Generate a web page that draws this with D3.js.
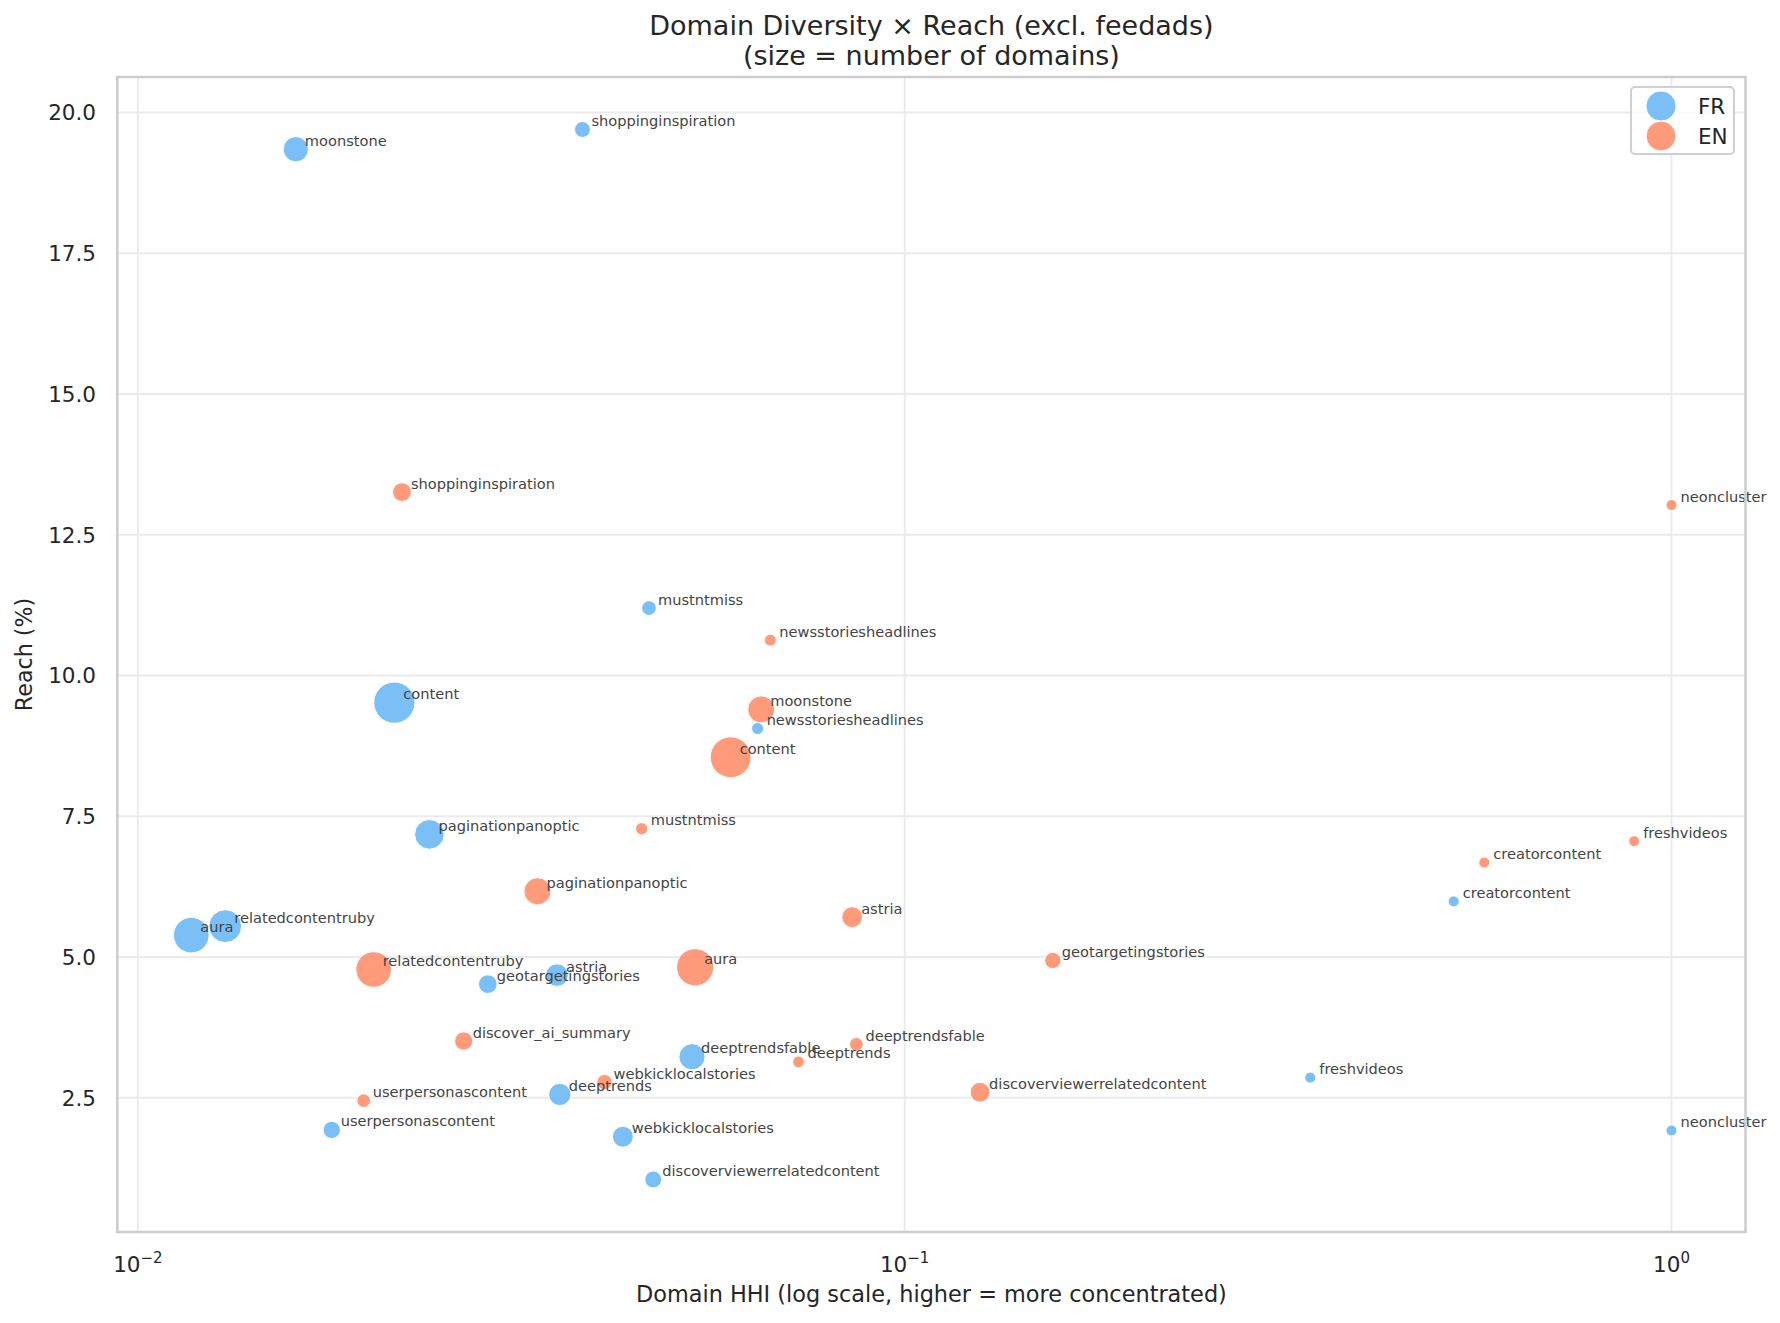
<!DOCTYPE html>
<html>
<head>
<meta charset="utf-8">
<script src="https://cdn.jsdelivr.net/npm/d3@7"></script>
<style>
  body { margin: 0; background: #fff; }
  svg { display: block; font-family: "DejaVu Sans", sans-serif; }
</style>
</head>
<body>
<svg width="1780" height="1323"></svg>
<script>
// ---------------------------------------------------------------------------
// Data

const frNames = ["moonstone", "shoppinginspiration", "mustntmiss", "content",
  "newsstoriesheadlines", "paginationpanoptic", "creatorcontent",
  "relatedcontentruby", "aura", "astria", "geotargetingstories",
  "deeptrendsfable", "freshvideos", "deeptrends", "userpersonascontent",
  "webkicklocalstories", "neoncluster", "discoverviewerrelatedcontent"];
const frHHI = [0.01607, 0.0380, 0.0464, 0.0216, 0.0643, 0.0240, 0.520,
  0.0130, 0.01174, 0.0352, 0.0286, 0.0528, 0.338, 0.0355, 0.0179,
  0.0429, 1.0, 0.0470];
const frReach = [19.35, 19.70, 11.20, 9.52, 9.06, 7.18, 5.99, 5.55, 5.39,
  4.68, 4.52, 3.23, 2.86, 2.56, 1.93, 1.81, 1.92, 1.05];
const frDomains = [393, 102, 74, 1200, 20, 576, 2, 729, 873, 298, 175,
  432, 3, 285, 136, 240, 1, 126];

const enNames = ["shoppinginspiration", "neoncluster", "newsstoriesheadlines",
  "moonstone", "content", "mustntmiss", "freshvideos", "creatorcontent",
  "paginationpanoptic", "astria", "geotargetingstories", "aura",
  "relatedcontentruby", "discover_ai_summary", "deeptrendsfable",
  "deeptrends", "webkicklocalstories", "discoverviewerrelatedcontent",
  "userpersonascontent"];
const enHHI = [0.0221, 1.0, 0.0668, 0.0650, 0.0593, 0.0454, 0.894, 0.570,
  0.0332, 0.0854, 0.156, 0.0533, 0.0203, 0.0266, 0.0865, 0.0727, 0.0406,
  0.1254, 0.0197];
const enReach = [13.26, 13.03, 10.63, 9.40, 8.55, 7.28, 7.06, 6.68, 6.17,
  5.71, 4.94, 4.82, 4.78, 3.51, 3.45, 3.14, 2.78, 2.60, 2.45];
const enDomains = [180, 1, 18, 465, 1175, 25, 2, 2, 470, 240, 111, 960,
  873, 163, 53, 15, 87, 209, 51];

const langs = ["FR", "EN"];
const colors = ["#64b5f6", "#ff8a65"];
const yTicks = [2.5, 5.0, 7.5, 10.0, 12.5, 15.0, 17.5, 20.0];
const xTicks = [0.01, 0.1, 1];

// ---------------------------------------------------------------------------
// Layout

const svg = d3.select("svg");
const plotL = 117.3, plotR = 1745.5, plotT = 77, plotB = 1232;

const series = [
  {lang: langs[0], color: colors[0], names: frNames, hhi: frHHI, reach: frReach, n: frDomains},
  {lang: langs[1], color: colors[1], names: enNames, hhi: enHHI, reach: enReach, n: enDomains}
];
const points = series.flatMap(s => s.names.map((name, i) => ({
  name: name, hhi: s.hhi[i], reach: s.reach[i], n: s.n[i], color: s.color
})));

// matplotlib style 5% margins (log space for x)
const lx = d3.extent(points, d => Math.log10(d.hhi));
const lpad = (lx[1] - lx[0]) * 0.05;
const ry = d3.extent(points, d => d.reach);
const ypad = (ry[1] - ry[0]) * 0.05;

const x = d3.scaleLog()
  .domain([Math.pow(10, lx[0] - lpad), Math.pow(10, lx[1] + lpad)])
  .range([plotL, plotR]);
const y = d3.scaleLinear()
  .domain([ry[0] - ypad, ry[1] + ypad])
  .range([plotB, plotT]);

// marker area grows linearly with number of domains
const nAll = points.map(d => d.n);
const area = d3.scaleLinear()
  .domain([d3.min(nAll), d3.max(nAll)])
  .range([30, 425]);
const radius = n => Math.sqrt(area(n));

// ---------------------------------------------------------------------------
// Grid and frame

const grid = svg.append("g").attr("class", "grid");
grid.selectAll("line.h").data(yTicks).enter().append("line")
  .attr("x1", plotL).attr("x2", plotR)
  .attr("y1", d => y(d)).attr("y2", d => y(d))
  .attr("stroke", "#ebebeb").attr("stroke-width", 2);
grid.selectAll("line.v").data(xTicks).enter().append("line")
  .attr("y1", plotT).attr("y2", plotB)
  .attr("x1", d => x(d)).attr("x2", d => x(d))
  .attr("stroke", "#ebebeb").attr("stroke-width", 2);

// ---------------------------------------------------------------------------
// Bubbles, then labels on top

svg.append("g").attr("class", "bubbles")
  .selectAll("circle")
  .data(points)
  .enter().append("circle")
  .attr("cx", d => x(d.hhi))
  .attr("cy", d => y(d.reach))
  .attr("r", d => radius(d.n))
  .attr("fill", d => d.color)
  .attr("stroke", "#fff")
  .attr("stroke-width", 1)
  .attr("opacity", 0.85);

svg.append("g").attr("class", "labels")
  .selectAll("text")
  .data(points)
  .enter().append("text")
  .attr("x", d => x(d.hhi) + 9)
  .attr("y", d => y(d.reach) - 3.5)
  .attr("font-size", 14.6)
  .attr("fill", "#444")
  .text(d => d.name);

svg.append("rect")
  .attr("x", plotL).attr("y", plotT)
  .attr("width", plotR - plotL).attr("height", plotB - plotT)
  .attr("fill", "none")
  .attr("stroke", "#cccccc")
  .attr("stroke-width", 2.5);

// ---------------------------------------------------------------------------
// Axes

svg.append("g").attr("class", "yticks")
  .selectAll("text")
  .data(yTicks)
  .enter().append("text")
  .attr("x", 96)
  .attr("y", d => y(d))
  .attr("dy", "0.36em")
  .attr("text-anchor", "end")
  .attr("font-size", 21.5)
  .attr("fill", "#262626")
  .text(d => d.toFixed(1));

const xt = svg.append("g").attr("class", "xticks")
  .selectAll("text")
  .data(xTicks)
  .enter().append("text")
  .attr("x", d => x(d))
  .attr("y", 1272)
  .attr("text-anchor", "middle")
  .attr("font-size", 21.5)
  .attr("fill", "#262626");
xt.append("tspan").text("10");
xt.append("tspan")
  .attr("dy", -9)
  .attr("font-size", 15)
  .text(d => {
    let e = Math.round(Math.log10(d));
    return e < 0 ? "\u2212" + (-e) : "" + e;
  });

svg.append("text")
  .attr("x", (plotL + plotR) / 2)
  .attr("y", 1302)
  .attr("text-anchor", "middle")
  .attr("font-size", 22.4)
  .attr("fill", "#262626")
  .text("Domain HHI (log scale, higher = more concentrated)");

svg.append("text")
  .attr("transform", `translate(24,${(plotT + plotB) / 2}) rotate(-90)`)
  .attr("dy", "0.36em")
  .attr("text-anchor", "middle")
  .attr("font-size", 22.2)
  .attr("fill", "#262626")
  .text("Reach (%)");

// title
const title = svg.append("text")
  .attr("text-anchor", "middle")
  .attr("font-size", 27)
  .attr("fill", "#262626");
title.append("tspan").attr("x", (plotL + plotR) / 2).attr("y", 35)
  .text("Domain Diversity \u00d7 Reach (excl. feedads)");
title.append("tspan").attr("x", (plotL + plotR) / 2).attr("y", 64.5)
  .text("(size = number of domains)");

// ---------------------------------------------------------------------------
// Legend (marker = mean of the series' min and max sizes, like matplotlib)

const legend = svg.append("g").attr("class", "legend");
legend.append("rect")
  .attr("x", 1631).attr("y", 87)
  .attr("width", 103).attr("height", 67)
  .attr("rx", 4)
  .attr("fill", "#fff").attr("fill-opacity", 0.8)
  .attr("stroke", "#d0d0d0").attr("stroke-width", 2);

const items = legend.selectAll("g.item")
  .data(series)
  .enter().append("g")
  .attr("transform", (d, i) => `translate(1661,${106 + i * 30})`);
items.append("circle")
  .attr("r", d => {
    let ext = d3.extent(d.n);
    return Math.sqrt((area(ext[0]) + area(ext[1])) / 2);
  })
  .attr("fill", d => d.color)
  .attr("stroke", "#fff")
  .attr("stroke-width", 1)
  .attr("opacity", 0.85);
items.append("text")
  .attr("x", 37)
  .attr("dy", "0.36em")
  .attr("font-size", 21.5)
  .attr("fill", "#262626")
  .text(d => d.lang);
</script>
</body>
</html>
